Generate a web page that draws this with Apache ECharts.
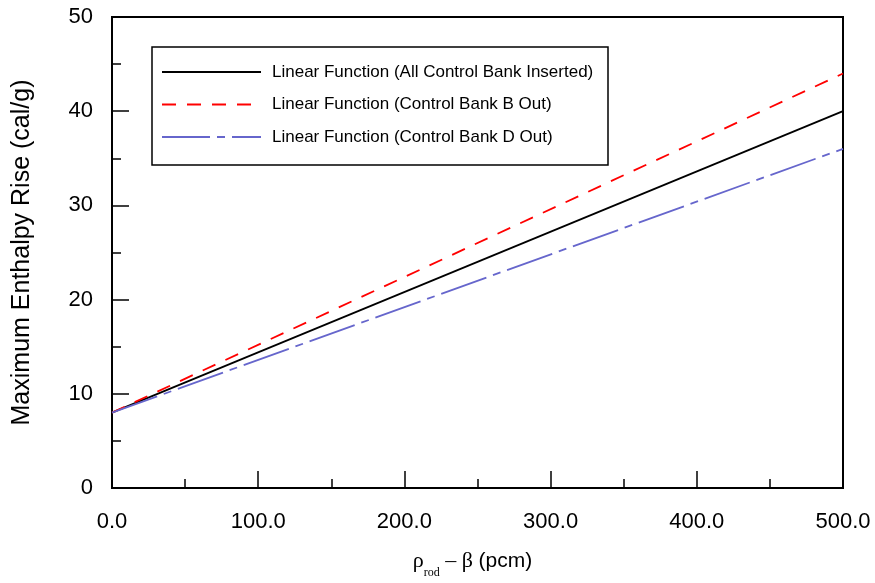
<!DOCTYPE html>
<html>
<head>
<meta charset="utf-8">
<script src="https://cdn.jsdelivr.net/npm/echarts@6/dist/echarts.min.js"></script>
<style>html,body{margin:0;padding:0;background:#fff}#c{width:875px;height:583px}</style>
</head>
<body>
<div id="c"></div>
<script>
// x values (rho_rod - beta, pcm)
const xValues = [0, 500];
// Maximum enthalpy rise (cal/g)
const allInserted = [8, 40];
const bankBOut = [8, 44];
const bankDOut = [8, 36];
const seriesNames = [
  'Linear Function (All Control Bank Inserted)',
  'Linear Function (Control Bank B Out)',
  'Linear Function (Control Bank D Out)'
];
const xTicks = [0, 100, 200, 300, 400, 500];
const yTicks = [0, 10, 20, 30, 40, 50];

const pairs = (ys) => xValues.map((x, i) => [x, ys[i]]);
const FONT = "'Liberation Sans', Arial, sans-serif";
const SERIF = "'Liberation Serif', 'Times New Roman', serif";

const chart = echarts.init(document.getElementById('c'));
chart.setOption({
  animation: false,
  backgroundColor: '#fff',
  grid: { left: 112, right: 32, top: 17, bottom: 95, containLabel: false, outerBoundsMode: 'none',
          show: true, borderColor: '#000', borderWidth: 2, backgroundColor: 'transparent' },
  legend: {
    orient: 'vertical', left: 161, top: 63.5, padding: 0,
    itemWidth: 99, itemHeight: 14, itemGap: 15.5,
    itemStyle: { opacity: 0 },
    textStyle: { fontFamily: FONT, fontSize: 17, color: '#000', padding: [0, 0, 0, 6] },
    data: seriesNames
  },
  graphic: [{
    type: 'rect', shape: { x: 152, y: 47, width: 456, height: 118 },
    style: { fill: 'none', stroke: '#000', lineWidth: 1.5 }, z: 100
  }],
  xAxis: {
    type: 'value', min: xTicks[0], max: xTicks[xTicks.length - 1], interval: 100,
    axisLine: { show: true, lineStyle: { color: '#000', width: 2 } },
    axisTick: { show: true, inside: true, length: 17, lineStyle: { color: '#000', width: 1.5 } },
    minorTick: { show: true, splitNumber: 2, length: 9, lineStyle: { color: '#000', width: 1.5 } },
    splitLine: { show: false },
    axisLabel: { fontFamily: FONT, fontSize: 22, color: '#000', margin: 23, formatter: v => v.toFixed(1) },
    name: '{r|ρ}{s|rod}{r| – β }{a|(pcm)}',
    nameLocation: 'middle', nameGap: 58,
    nameTextStyle: {
      padding: [0, 10, 0, 0],
      rich: {
        r: { fontFamily: SERIF, fontSize: 22, color: '#000', lineHeight: 26, verticalAlign: 'bottom' },
        s: { fontFamily: SERIF, fontSize: 12, color: '#000', lineHeight: 20, verticalAlign: 'bottom', padding: [0, 0, -7, 0] },
        a: { fontFamily: FONT, fontSize: 21, color: '#000', lineHeight: 26, verticalAlign: 'bottom' }
      }
    }
  },
  yAxis: {
    type: 'value', min: yTicks[0], max: yTicks[yTicks.length - 1], interval: 10,
    axisLine: { show: true, lineStyle: { color: '#000', width: 2 } },
    axisTick: { show: true, inside: true, length: 17, lineStyle: { color: '#000', width: 1.5 } },
    minorTick: { show: true, splitNumber: 2, length: 9, lineStyle: { color: '#000', width: 1.5 } },
    splitLine: { show: false },
    axisLabel: { fontFamily: FONT, fontSize: 22, color: '#000', margin: 19 },
    name: 'Maximum Enthalpy Rise (cal/g)',
    nameLocation: 'middle', nameGap: 77,
    nameTextStyle: { fontFamily: FONT, fontSize: 25, color: '#000' }
  },
  series: [
    { name: seriesNames[0], type: 'line', data: pairs(allInserted), symbol: 'none', color: '#000',
      lineStyle: { color: '#000', width: 1.8, type: 'solid' } },
    { name: seriesNames[1], type: 'line', data: pairs(bankBOut), symbol: 'none', color: '#ff0000',
      lineStyle: { color: '#ff0000', width: 1.8, type: [14, 11] } },
    { name: seriesNames[2], type: 'line', data: pairs(bankDOut), symbol: 'none', color: '#6666cc',
      lineStyle: { color: '#6666cc', width: 1.8, type: [48, 7, 8, 7] } }
  ]
});
</script>
</body>
</html>
